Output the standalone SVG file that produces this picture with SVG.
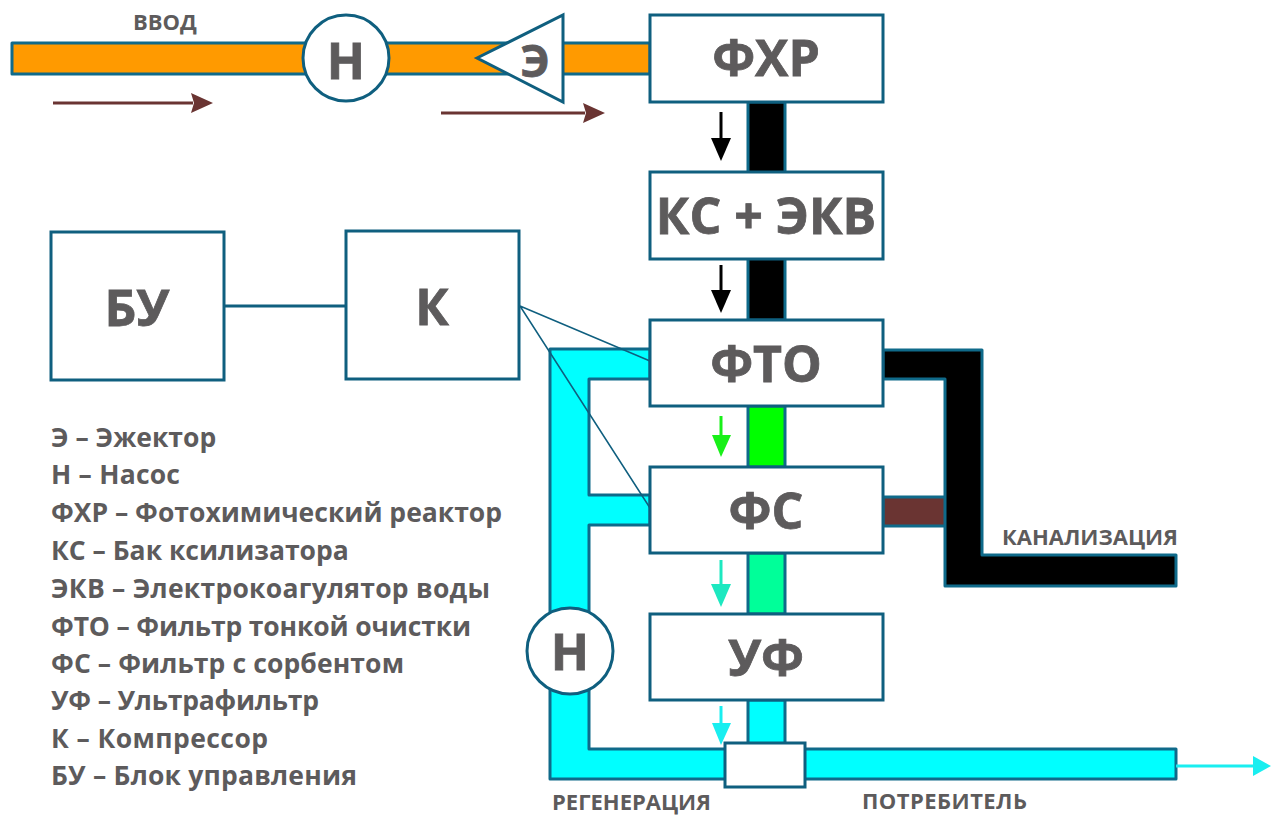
<svg xmlns="http://www.w3.org/2000/svg" width="1271" height="815" viewBox="0 0 1271 815">
<style>
text{font-family:"Open Sans","Noto Sans","DejaVu Sans",sans-serif;font-weight:700;fill:#5d5b5c}
.big{font-size:50px;text-anchor:middle;stroke:#5d5b5c;stroke-width:.8}
.leg{font-size:26.5px}
.lab{font-size:22px}
.box{fill:#fff;stroke:#0f5f7f;stroke-width:3}
.pipe{stroke:#0f6a8a;stroke-width:3;stroke-linejoin:round}
.fl{fill:none}
</style>
<defs>
<marker id="brown" markerUnits="userSpaceOnUse" markerWidth="22" markerHeight="20" refX="2" refY="10" orient="auto"><path d="M0 0L22 10L0 20L3 10Z" fill="#6a3432"/></marker>
</defs>
<rect width="1271" height="815" fill="#fff"/>
<g id="connectors">
<rect class="pipe" x="12" y="43" width="638" height="31" fill="#ff9a00"/>
<path class="pipe" fill="#000" d="M748 102H785V320H748Z"/>
<path class="pipe" fill="#00ff00" d="M748 406H785V467H748Z"/>
<path class="pipe" fill="#00ff99" d="M748 553H785V614H748Z"/>
<path class="pipe" fill="#00ffff" d="M748 700H785V750H748Z"/>
<path class="pipe" fill="#00ffff" d="M650 349H550V779H1176V749H589V525H650V495H589V379H650Z"/>
<path class="pipe" fill="#6a3432" d="M883 497H946V526H883Z"/>
<path class="pipe" fill="#000" d="M883 350H982V555H1176V586H945V379H883Z"/>
<path d="M224 306H346" class="fl" stroke="#0f5f7f" stroke-width="3"/>
<path d="M520 306L650 361M520 306L650 508" class="fl" stroke="#0f5f7f" stroke-width="1.5"/>
<path d="M53 103H193" class="fl" stroke="#6a3432" stroke-width="3" marker-end="url(#brown)"/>
<path d="M441 113H585" class="fl" stroke="#6a3432" stroke-width="3" marker-end="url(#brown)"/>
<path d="M721 112V142" stroke="#000" stroke-width="3"/><path d="M711 138H731L721 161Z" fill="#000"/>
<path d="M721 265V294" stroke="#000" stroke-width="3"/><path d="M711 290H731L721 313Z" fill="#000"/>
<path d="M721 416V438" stroke="#19f019" stroke-width="3"/><path d="M712 435H731L721 457Z" fill="#19f019"/>
<path d="M721 560V588" stroke="#1de8c0" stroke-width="3"/><path d="M711 584H731L721 607Z" fill="#1de8c0"/>
<path d="M721 706V726" stroke="#19eef0" stroke-width="3"/><path d="M712 723H731L721 745Z" fill="#19eef0"/>
<path d="M1176 766H1255" stroke="#19eef0" stroke-width="3"/><path d="M1253 756L1271 766L1253 776Z" fill="#19eef0"/>
</g>
<g id="pump1"><circle class="box" cx="346" cy="58" r="43"/><text class="big" x="346" y="79">Н</text></g>
<g id="ejector"><path class="box" d="M477 58L563 15V102Z"/><text class="big" style="font-size:44px" x="535" y="77">Э</text></g>
<g id="fhr"><rect class="box" x="650" y="15" width="233" height="87"/><text class="big" x="766" y="76">ФХР</text></g>
<g id="ks"><rect class="box" x="650" y="172" width="233" height="87"/><text class="big" x="766" y="234">КС + ЭКВ</text></g>
<g id="fto"><rect class="box" x="650" y="320" width="233" height="86"/><text class="big" x="766" y="382">ФТО</text></g>
<g id="fs"><rect class="box" x="650" y="467" width="233" height="86"/><text class="big" x="766" y="529">ФС</text></g>
<g id="uf"><rect class="box" x="650" y="614" width="233" height="86"/><text class="big" x="766" y="676">УФ</text></g>
<g id="bu"><rect class="box" x="51" y="232" width="173" height="148"/><text class="big" x="137" y="326">БУ</text></g>
<g id="k"><rect class="box" x="346" y="231" width="173" height="148"/><text class="big" x="432" y="325">К</text></g>
<g id="pump2"><circle class="box" cx="570" cy="651" r="43"/><text class="big" x="570" y="670">Н</text></g>
<g id="valve"><rect class="box" x="725" y="743" width="80" height="44"/></g>
<g id="labels">
<text class="lab" x="133" y="30">ВВОД</text>
<text class="lab" x="1002" y="545">КАНАЛИЗАЦИЯ</text>
<text class="lab" x="552" y="810">РЕГЕНЕРАЦИЯ</text>
<text class="lab" x="862" y="809" textLength="165">ПОТРЕБИТЕЛЬ</text>
<text class="leg" x="51" y="447">Э – Эжектор</text>
<text class="leg" x="51" y="484" textLength="129">Н – Насос</text>
<text class="leg" x="51" y="522">ФХР – Фотохимический реактор</text>
<text class="leg" x="51" y="560">КС – Бак ксилизатора</text>
<text class="leg" x="51" y="598" textLength="439">ЭКВ – Электрокоагулятор воды</text>
<text class="leg" x="51" y="636" textLength="420">ФТО – Фильтр тонкой очистки</text>
<text class="leg" x="51" y="673" textLength="353">ФС – Фильтр с сорбентом</text>
<text class="leg" x="51" y="710" textLength="268">УФ – Ультрафильтр</text>
<text class="leg" x="51" y="748" textLength="217">К – Компрессор</text>
<text class="leg" x="51" y="785" textLength="306">БУ – Блок управления</text>
</g>
</svg>
